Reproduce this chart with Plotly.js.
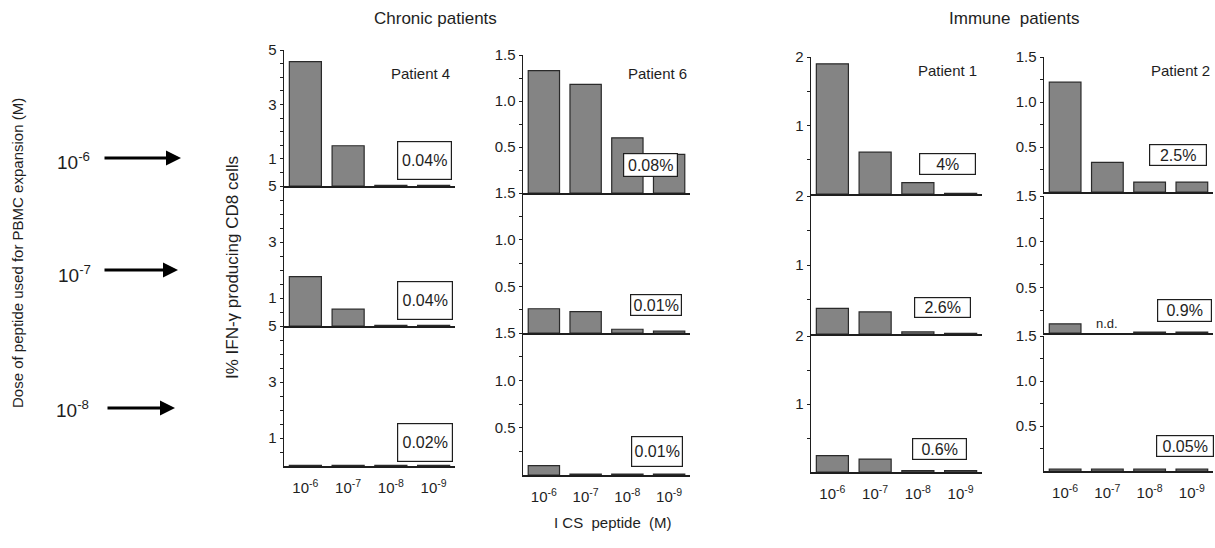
<!DOCTYPE html>
<html>
<head>
<meta charset="utf-8">
<script src="https://cdn.plot.ly/plotly-3.0.1.min.js"></script>
<style>html,body{margin:0;padding:0;background:#fff;}#chart{width:1215px;height:548px;}</style>
</head>
<body>
<div id="chart"></div>
<script>
// ---------- data ----------
const icsLabels = ['10<sup>-6</sup>','10<sup>-7</sup>','10<sup>-8</sup>','10<sup>-9</sup>'];
const doseLabels = ['10<sup>-6</sup>','10<sup>-7</sup>','10<sup>-8</sup>'];
const patients = ['Patient 4','Patient 6','Patient 1','Patient 2'];
const groupTitles = ['Chronic patients','Immune  patients'];

// % IFN-gamma producing CD8 cells; rows = expansion dose 1e-6, 1e-7, 1e-8
const p4_d6 = [4.57, 1.48, 0.02, 0.02];
const p4_d7 = [1.76, 0.60, 0.02, 0.02];
const p4_d8 = [0.02, 0.02, 0.02, 0.02];
const p6_d6 = [1.33, 1.18, 0.60, 0.42];
const p6_d7 = [0.26, 0.23, 0.04, 0.02];
const p6_d8 = [0.10, 0.01, 0.01, 0.01];
const p1_d6 = [1.90, 0.61, 0.165, 0.01];
const p1_d7 = [0.37, 0.32, 0.03, 0.01];
const p1_d8 = [0.24, 0.19, 0.02, 0.02];
const p2_d6 = [1.22, 0.33, 0.11, 0.11];
const p2_d7 = [0.10, null, 0.01, 0.01];
const p2_d8 = [0.02, 0.02, 0.02, 0.02];

const p4_box = ['0.04%','0.04%','0.02%'];
const p6_box = ['0.08%','0.01%','0.01%'];
const p1_box = ['4%','2.6%','0.6%'];
const p2_box = ['2.5%','0.9%','0.05%'];

const yMax = [5, 1.5, 2, 1.5];
const yMinorStep = [0.5, 0.25, 0.5, 0.25];
const yLabelVals = [[1,3,5],[0.5,1.0,1.5],[1,2],[0.5,1.0,1.5]];
const yLabelText = [['1','3','5'],['0.5','1.0','1.5'],['1','2'],['0.5','1.0','1.5']];
const ndLabel = 'n.d.';

// ---------- layout geometry (pixels) ----------
const W = 1215, H = 548;
const colX = [[284,455],[523,690],[811,982],[1044,1213]];
const rowY = [
  [[50,186],[186,326],[326,466]],
  [[55,193],[193,333],[333,475]],
  [[57,194],[196,334],[336,472]],
  [[57,192],[196,333],[336,471]]
];
const boxGeom = [ // cx, cy, w, h per column per row
  [[424.5,160.5,55,39],[425,300,56,39],[425,442,56,39]],
  [[650.5,165,55,24],[656,305,52,22],[657,451,52,31]],
  [[947.5,164,57,22],[942,307,57,21],[939,449,55,22]],
  [[1178,155,58,22],[1184,310,55,23],[1185,446,58,22]]
];
const patLabelPos = [[420,73],[657,73],[947,71],[1180,70]];

const px = x => x / W;
const py = y => 1 - y / H;

const allData = [[p4_d6,p4_d7,p4_d8],[p6_d6,p6_d7,p6_d8],[p1_d6,p1_d7,p1_d8],[p2_d6,p2_d7,p2_d8]];
const allBoxes = [p4_box,p6_box,p1_box,p2_box];

const FONT = 'Arial, "Liberation Sans", Helvetica, sans-serif';
const INK = '#1e1e1e';

const traces = [];
const layout = {
  width: W, height: H,
  margin: {l:0, r:0, t:0, b:0},
  paper_bgcolor: '#fff', plot_bgcolor: 'rgba(0,0,0,0)',
  showlegend: false,
  bargap: 0.25,
  font: {family: FONT, color: INK},
  annotations: [],
  shapes: []
};

function note(x, y, text, size, extra) {
  return Object.assign({xref:'paper', yref:'paper', x: px(x), y: py(y),
    xanchor:'center', yanchor:'middle', showarrow:false, text: text,
    font:{size:size, family:FONT, color:INK}}, extra || {});
}

let k = 0;
for (let c = 0; c < 4; c++) {
  const minorVals = [];
  for (let v = yMinorStep[c]; v <= yMax[c] + 1e-9; v += yMinorStep[c]) {
    const vv = Math.round(v * 1000) / 1000;
    if (!yLabelVals[c].some(z => Math.abs(z - vv) < 1e-6)) minorVals.push(vv);
  }
  for (let r = 0; r < 3; r++) {
    k++;
    const xa = k === 1 ? 'xaxis' : 'xaxis' + k;
    const ya = k === 1 ? 'yaxis' : 'yaxis' + k;
    const xr = k === 1 ? 'x' : 'x' + k;
    const yr = k === 1 ? 'y' : 'y' + k;
    traces.push({
      type: 'bar', x: [0,1,2,3], y: allData[c][r], xaxis: xr, yaxis: yr,
      marker: {color: '#848484', line: {color: '#2a2a2a', width: 1.2}},
      hoverinfo: 'y'
    });
    layout[xa] = {
      domain: [px(colX[c][0]), px(colX[c][1])],
      anchor: yr, range: [-0.5, 3.5],
      showline: true, linecolor: INK, linewidth: 2,
      showgrid: false, zeroline: false,
      ticks: '', tickvals: [0,1,2,3], ticktext: icsLabels,
      showticklabels: r === 2,
      tickfont: {size: 15, family: FONT, color: INK},
      ticklabelstandoff: 7,
      fixedrange: true
    };
    layout[ya] = {
      domain: [py(rowY[c][r][1]), py(rowY[c][r][0])],
      anchor: xr, range: [0, yMax[c]],
      showline: true, linecolor: INK, linewidth: 1.5,
      showgrid: false, zeroline: false,
      ticks: 'outside', ticklen: 3, tickwidth: 1, tickcolor: INK,
      tickmode: 'array', tickvals: yLabelVals[c], ticktext: yLabelText[c],
      minor: {tickmode: 'array', tickvals: minorVals, ticks: 'outside', ticklen: 3, tickwidth: 1, tickcolor: INK},
      tickfont: {size: 15, family: FONT, color: INK},
      fixedrange: true
    };
    const b = boxGeom[c][r];
    layout.annotations.push(note(b[0], b[1], allBoxes[c][r], 16, {
      bgcolor: '#fff', bordercolor: INK, borderwidth: 1.2, borderpad: 0,
      width: b[2] - 2, height: b[3] - 2
    }));
  }
  layout.annotations.push(note(patLabelPos[c][0], patLabelPos[c][1], patients[c], 15));
}

// n.d. label on Patient 2, dose 1e-7, ICS 1e-7 (null bar)
layout.annotations.push({
  xref: 'x11', yref: 'paper', x: 1, y: py(323), xanchor: 'center', yanchor: 'middle',
  showarrow: false, text: ndLabel, font: {size: 13, family: FONT, color: INK}
});

// group titles
layout.annotations.push(note(435, 19, groupTitles[0], 17));
layout.annotations.push(note(1014, 19, groupTitles[1], 17));

// dose labels + arrows
const doseY = [161, 274, 409];
const doseX = [73, 74, 72];
const arrowY = [158, 270, 408];
const arrowX = [[103,181],[103,178],[106,175]];
for (let i = 0; i < 3; i++) {
  layout.annotations.push(note(doseX[i], doseY[i], doseLabels[i], 19));
  layout.annotations.push({xref:'paper', yref:'paper', axref:'pixel', ayref:'pixel',
    x: px(arrowX[i][1]), y: py(arrowY[i]), ax: arrowX[i][0] - arrowX[i][1], ay: 0,
    text: '', showarrow: true, arrowhead: 2, arrowsize: 1, arrowwidth: 3, arrowcolor: '#000'});
}

// axis titles
layout.annotations.push(note(17, 253, 'Dose of peptide used for PBMC expansion (M)', 15, {textangle: -90}));
layout.annotations.push(note(232, 268, 'I% IFN-γ producing CD8 cells', 17, {textangle: -90}));
layout.annotations.push(note(613, 522, 'I CS  peptide  (M)', 15));

Plotly.newPlot('chart', traces, layout, {displayModeBar: false, staticPlot: true});
</script>
</body>
</html>
